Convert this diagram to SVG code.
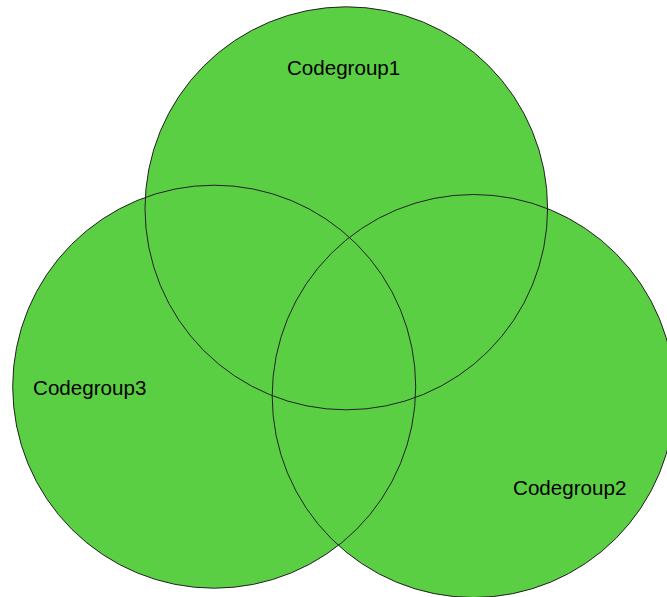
<svg xmlns="http://www.w3.org/2000/svg" width="667" height="597" viewBox="0 0 667 597">
<style>
.fill{fill:#5bcf43;stroke:none}
.outline{fill:none;stroke:#222;stroke-width:1}
.label{font-family:"Liberation Sans",Arial,sans-serif;font-size:20.6px;fill:#000;text-anchor:middle}
</style>
<rect width="667" height="597" fill="#fff"/>
<g id="fills">
<ellipse class="fill" cx="346.3" cy="208.3" rx="201.3" ry="201.5"/>
<ellipse class="fill" cx="214.2" cy="386.7" rx="201.5" ry="201.5"/>
<ellipse class="fill" cx="473.5" cy="396" rx="201.3" ry="201.5"/>
</g>
<g id="codegroup1">
<ellipse class="outline" cx="346.3" cy="208.3" rx="201.3" ry="201.5"/>
<text class="label" x="343.6" y="75">Codegroup1</text>
</g>
<g id="codegroup3">
<ellipse class="outline" cx="214.2" cy="386.7" rx="201.5" ry="201.5"/>
<text class="label" x="89.7" y="395">Codegroup3</text>
</g>
<g id="codegroup2">
<ellipse class="outline" cx="473.5" cy="396" rx="201.3" ry="201.5"/>
<text class="label" x="569.7" y="495">Codegroup2</text>
</g>
<g id="connectors"/>
</svg>
